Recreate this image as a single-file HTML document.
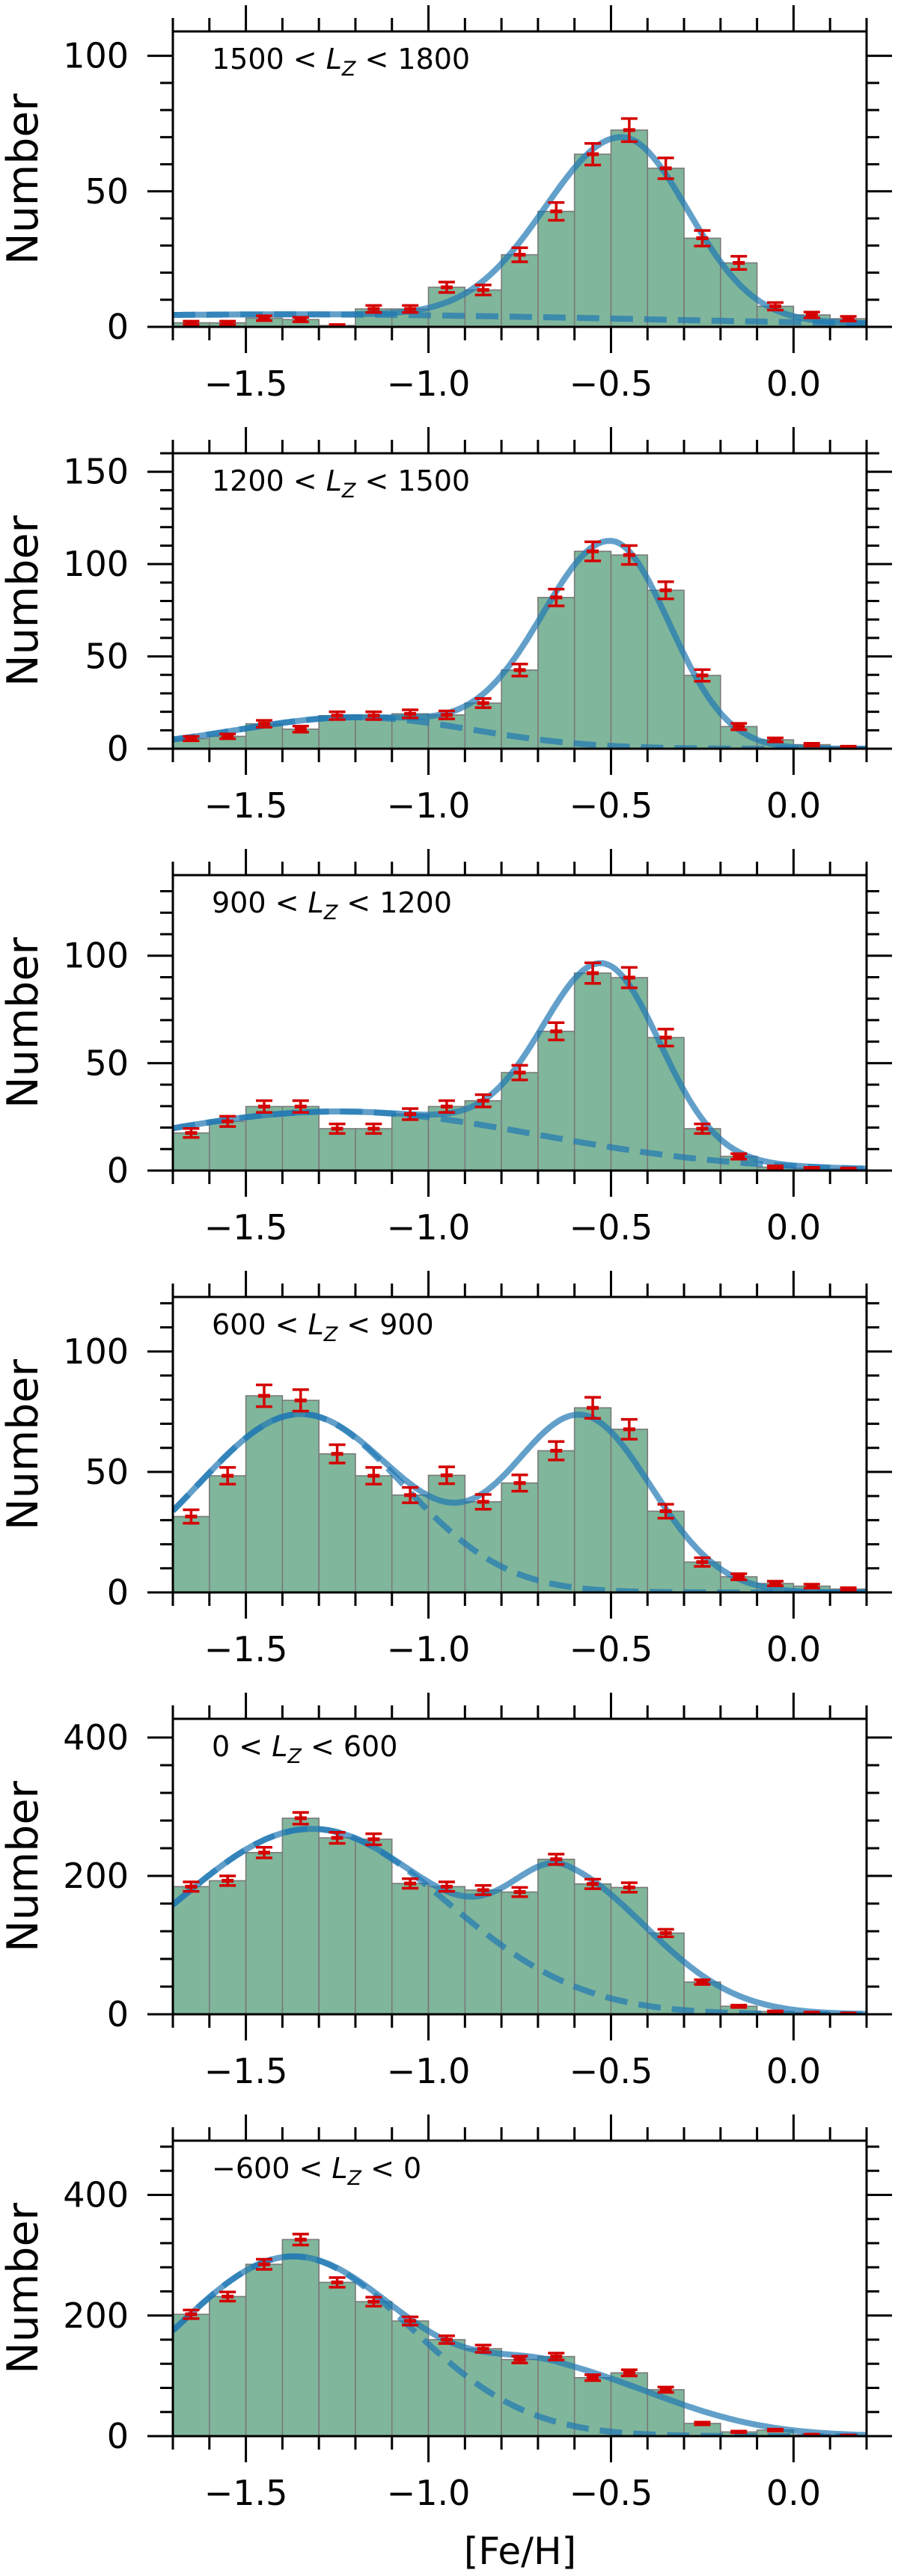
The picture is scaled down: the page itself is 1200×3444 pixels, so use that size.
<!DOCTYPE html>
<html><head><meta charset="utf-8">
<style>
html,body{margin:0;padding:0;background:#fff;}
svg{display:block;font-family:"DejaVu Sans","Liberation Sans",sans-serif;}
</style></head>
<body>
<svg id="fig" width="1200" height="3444" viewBox="0 0 1200 3444" xmlns="http://www.w3.org/2000/svg"></svg>
<script>
// ---- data ----
const binEdgesStart = -1.7;
const binWidth = 0.1;
const panelLabels = [["1500","1800"],["1200","1500"],["900","1200"],["600","900"],["0","600"],["\u2212600","0"]];
const counts1 = [1.5,1.5,3.2,2.7,0.5,6.6,6.6,14.6,13.6,26.6,42.6,63.7,72.6,58.5,32.7,23.6,7.6,4.4,3];
const counts2 = [5.5,6.7,13.5,10.6,17.9,17.9,18.9,18.3,24.7,42.6,81.9,106.9,104.9,85.8,39.7,12,4.8,2.2,0.9];
const counts3 = [17.5,22.9,29.8,29.8,19.5,19.5,26.3,29.8,32.5,45.6,64.8,91.9,89.8,61.9,19.5,6.6,1.6,1,0.75];
const counts4 = [31.5,48.4,81.6,79.7,57.5,48.4,40.4,48.6,37.6,45.4,58.8,76.6,67.7,33.7,12.6,6.5,3.7,2.6,1.4];
const counts5 = [184.5,193,233.7,283.3,255,253,189,184.5,179.5,176.7,224,188.4,183.3,117.4,46.5,11.6,3.9,2.3,1.2];
const counts6 = [202,231.5,285,326,255,223,191,160,145,127,132,97,105,77,21,7,10,2.3,1];
// model components: poor [amp, mean, sigma]; rich [amp, mean, sigmaLeft, sigmaRight]
const poorComp = [[4.6,-1.4,1.0],[17,-1.2,0.32],[27.5,-1.25,0.55],[74,-1.35,0.28],[268,-1.32,0.37],[298,-1.37,0.32]];
const richComp = [[67,-0.47,0.21,0.18],[111,-0.5,0.19,0.16],[85,-0.52,0.165,0.155],[72,-0.58,0.19,0.19],[170,-0.62,0.15,0.24],[100,-0.65,0.2,0.3]];
const yMaxes = [109,160,137.5,122.6,427,490];
const yMajorTicks = [[0,50,100],[0,50,100,150],[0,50,100],[0,50,100],[0,200,400],[0,200,400]];
const yMinorStep = [10,10,10,10,40,40];
const xMajorTicks = [-1.5,-1.0,-0.5,0.0];
const xTickLabels = ["\u22121.5","\u22121.0","\u22120.5","0.0"];
const allCounts = [counts1,counts2,counts3,counts4,counts5,counts6];

// ---- layout ----
const NS = "http://www.w3.org/2000/svg";
const svg = document.getElementById('fig');
const L = 231, R = 1158, PH = 395, TOP0 = 42, GAP = 564;
const xMin = -1.7, xMax = 0.2;
function xs(v){ return L + (v - xMin) / (xMax - xMin) * (R - L); }
function mk(tag, attrs, parent){
  const e = document.createElementNS(NS, tag);
  for (const k in attrs) e.setAttribute(k, attrs[k]);
  (parent || svg).appendChild(e);
  return e;
}
function gauss(c, x){ return c[0] * Math.exp(-(x - c[1]) * (x - c[1]) / (2 * c[2] * c[2])); }
function splitGauss(c, x){ const s = x < c[1] ? c[2] : c[3]; return c[0] * Math.exp(-(x - c[1]) * (x - c[1]) / (2 * s * s)); }

for (let p = 0; p < 6; p++) {
  const top = TOP0 + p * GAP, bot = top + PH;
  const ymax = yMaxes[p];
  const ys = v => bot - v / ymax * PH;
  const g = mk('g', {});
  
  
  const clipId = 'clip' + p;
  const cp = mk('clipPath', {id: clipId}, g);
  mk('rect', {x: L, y: top, width: R - L, height: PH}, cp);
  const data = mk('g', {'clip-path': 'url(#' + clipId + ')'}, g);

  const cs = allCounts[p];
  cs.forEach((c, i) => {
    const x0 = binEdgesStart + i * binWidth;
    const r = mk('rect', {x: xs(x0), y: ys(c), width: xs(x0 + binWidth) - xs(x0), height: bot - ys(c),
      fill: '#80b69b', stroke: '#7a7a7a', 'stroke-width': 1.6}, data);
    
    
  });

  let dTot = '', dPoor = '';
  for (let k = 0; k <= 400; k++) {
    const xv = xMin + (xMax - xMin) * k / 400;
    const vp = gauss(poorComp[p], xv), vr = splitGauss(richComp[p], xv);
    dTot += (k ? 'L' : 'M') + xs(xv).toFixed(1) + ' ' + ys(vp + vr).toFixed(1);
    dPoor += (k ? 'L' : 'M') + xs(xv).toFixed(1) + ' ' + ys(vp).toFixed(1);
  }
  const cd = mk('path', {d: dPoor, fill: 'none', stroke: '#1f77b4', 'stroke-opacity': 0.7, 'stroke-width': 8, 'stroke-dasharray': '30 15'}, data);
  
  
  const ct = mk('path', {d: dTot, fill: 'none', stroke: '#1f77b4', 'stroke-opacity': 0.7, 'stroke-width': 8}, data);
  
  

  cs.forEach((c, i) => {
    const xc = xs(binEdgesStart + (i + 0.5) * binWidth);
    const e = 0.5 * Math.sqrt(c);
    const eg = mk('g', {stroke: '#d40000', 'stroke-width': 3.5}, data);
    
    
    mk('line', {x1: xc, x2: xc, y1: ys(c - e), y2: ys(c + e)}, eg);
    mk('line', {x1: xc - 11, x2: xc + 11, y1: ys(c - e), y2: ys(c - e)}, eg);
    mk('line', {x1: xc - 11, x2: xc + 11, y1: ys(c + e), y2: ys(c + e)}, eg);
    mk('line', {x1: xc - 8, x2: xc + 8, y1: ys(c), y2: ys(c), 'stroke-width': 5}, eg);
  });

  const fr = mk('rect', {x: L, y: top, width: R - L, height: PH, fill: 'none', stroke: '#000', 'stroke-width': 3}, g);
  
  

  for (let k = 0; k <= 19; k++) {
    const xv = xMin + k * 0.1;
    const major = xMajorTicks.some(t => Math.abs(t - xv) < 1e-6);
    const len = major ? 35 : 18;
    mk('line', {x1: xs(xv), x2: xs(xv), y1: bot, y2: bot + len, stroke: '#000', 'stroke-width': 3}, g);
    mk('line', {x1: xs(xv), x2: xs(xv), y1: top, y2: top - len, stroke: '#000', 'stroke-width': 3}, g);
  }
  xMajorTicks.forEach((t, i) => {
    const tx = mk('text', {x: xs(t), y: bot + 92, 'font-size': 46, 'text-anchor': 'middle'}, g);
    tx.textContent = xTickLabels[i];
    
    
  });

  for (let v = 0; v <= ymax; v += yMinorStep[p]) {
    const major = yMajorTicks[p].includes(v);
    const len = major ? 34 : 17;
    mk('line', {x1: L, x2: L - len, y1: ys(v), y2: ys(v), stroke: '#000', 'stroke-width': 3}, g);
    mk('line', {x1: R, x2: R + len, y1: ys(v), y2: ys(v), stroke: '#000', 'stroke-width': 3}, g);
  }
  yMajorTicks[p].forEach(t => {
    const ty = mk('text', {x: 172, y: ys(t) + 16, 'font-size': 46, 'text-anchor': 'end'}, g);
    ty.textContent = String(t);
    
    
  });

  const yl = mk('text', {x: 0, y: 0, 'font-size': 57, 'text-anchor': 'middle',
    transform: 'translate(50,' + (top + PH / 2) + ') rotate(-90)'}, g);
  yl.textContent = 'Number';
  
  

  const an = mk('text', {x: 283, y: top + 50, 'font-size': 38}, g);
  
  
  const s1 = mk('tspan', {}, an); s1.textContent = panelLabels[p][0] + ' < ';
  const s2 = mk('tspan', {'font-style': 'italic'}, an); s2.textContent = 'L';
  const s3 = mk('tspan', {'font-style': 'italic', 'font-size': 27, dy: 9}, an); s3.textContent = 'Z';
  const s4 = mk('tspan', {dy: -9}, an); s4.textContent = ' < ' + panelLabels[p][1];
}
const xl = mk('text', {x: 695, y: 3428, 'font-size': 50, 'text-anchor': 'middle'});
xl.textContent = '[Fe/H]';


</script>
</body></html>
